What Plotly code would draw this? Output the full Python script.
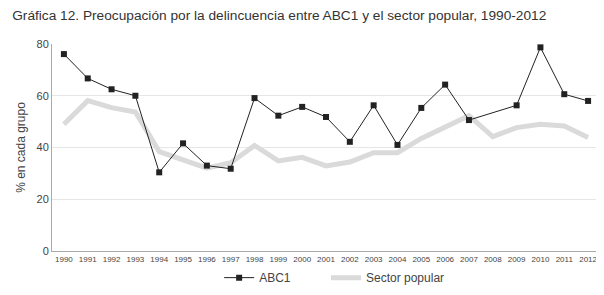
import plotly.graph_objects as go

years = [str(y) for y in range(1990, 2013)]
abc1 = [76.1, 66.7, 62.5, 60.0, 30.4, 41.6, 33.0, 31.8, 59.1, 52.3, 55.7, 51.8,
        42.2, 56.3, 41.0, 55.3, 64.3, 50.6, None, 56.3, 78.7, 60.6, 58.0]
popular = [49.0, 58.1, 55.4, 53.7, 38.4, 35.3, 32.0, 34.1, 40.8, 34.8, 36.2, 32.9,
           34.4, 38.0, 38.0, 43.5, 48.1, 52.3, 44.2, 47.7, 49.0, 48.3, 43.9]
y_ticks = [0, 20, 40, 60, 80]

fig = go.Figure()
fig.add_trace(go.Scatter(
    x=years, y=popular, name="Sector popular", mode="lines", legend="legend2",
    line=dict(color="#dadada", width=5), showlegend=True))
fig.add_trace(go.Scatter(
    x=years, y=abc1, name="ABC1", mode="lines+markers", connectgaps=True,
    legend="legend", showlegend=True,
    line=dict(color="#222222", width=1),
    marker=dict(symbol="square", size=6, color="#222222")))

font_family = "Liberation Sans, Arial, sans-serif"
leg_common = dict(orientation="h", xanchor="left", y=0.01, yanchor="bottom",
                  yref="container", font=dict(size=12, color="#444444"),
                  itemwidth=30, bgcolor="rgba(0,0,0,0)", visible=True)
fig.update_layout(
    width=596, height=287, showlegend=True,
    margin=dict(l=44, r=4, t=36, b=44, autoexpand=False),
    paper_bgcolor="white", plot_bgcolor="white",
    font=dict(family=font_family, color="#444444"),
    title=dict(text="Gráfica 12. Preocupación por la delincuencia entre ABC1 y el sector popular, 1990-2012",
               x=0.007, xanchor="left", y=0.99, yanchor="top",
               font=dict(size=13.7, color="#333333", family=font_family)),
    legend=dict(x=0.305, **leg_common),
    legend2=dict(x=0.5, **leg_common),
    xaxis=dict(type="category", range=[-0.5, 22.5], showgrid=False, automargin=False,
               showline=True, linecolor="#aaaaaa", linewidth=1,
               ticks="", tickfont=dict(size=8, color="#444444"), tickangle=0,
               fixedrange=True),
    yaxis=dict(range=[0, 80], tickvals=y_ticks, showgrid=True, gridcolor="#e6e6e6",
               gridwidth=1, showline=True, linecolor="#aaaaaa", linewidth=1,
               automargin=False,
               zeroline=False, tickfont=dict(size=11, color="#444444"),
               title=dict(text="% en cada grupo", font=dict(size=12, color="#444444"),
                          standoff=8)),
)

fig.write_html("out.html")
